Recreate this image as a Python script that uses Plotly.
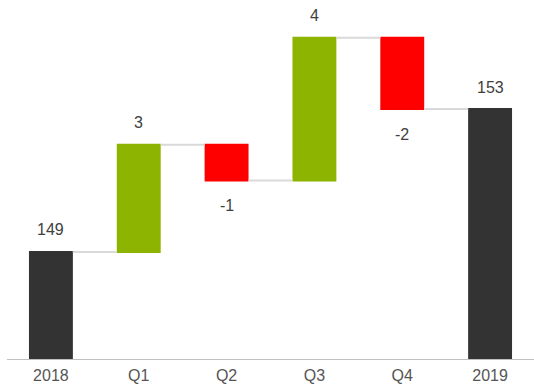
import plotly.graph_objects as go

categories = ["2018", "Q1", "Q2", "Q3", "Q4", "2019"]
values = [149, 3, -1, 4, -2, 153]
measures = ["absolute", "relative", "relative", "relative", "relative", "total"]
labels = ["149", "3", "-1", "4", "-2", "153"]

fig = go.Figure()
fig.add_trace(go.Waterfall(
    x=categories,
    y=values,
    measure=measures,
    increasing=dict(marker=dict(color="#8cb400")),
    decreasing=dict(marker=dict(color="#ff0000")),
    totals=dict(marker=dict(color="#333333")),
    connector=dict(mode="between", line=dict(color="#d9d9d9", width=2)),
    hoverinfo="skip",
))

# cumulative levels for label placement
level = 0
annotations = []
for i, (v, m, lab) in enumerate(zip(values, measures, labels)):
    if m == "absolute":
        level = v
        top, pos = v, True
    elif m == "total":
        top, pos = level, True
    else:
        level = level + v
        top = level
        pos = v >= 0
    annotations.append(dict(
        x=i, y=top, text=lab, showarrow=False,
        yshift=22 if pos else -25, yanchor="middle",
        font=dict(family="Liberation Sans, Arial, sans-serif", size=16, color="#404040"),
    ))

fig.update_layout(
    width=534, height=385,
    margin=dict(l=7, r=0, t=2, b=26),
    paper_bgcolor="white", plot_bgcolor="white",
    showlegend=False,
    waterfallgap=0.5,
    annotations=annotations,
    xaxis=dict(
        type="category", range=[-0.5, len(categories) - 0.5],
        showline=True, linecolor="#c0c0c0", linewidth=1,
        showgrid=False, ticks="", ticklabelstandoff=2,
        tickfont=dict(family="Liberation Sans, Arial, sans-serif", size=16, color="#555555"),
    ),
    yaxis=dict(range=[146, 156], visible=False, showgrid=False, zeroline=False),
)

fig.write_html("out.html")
